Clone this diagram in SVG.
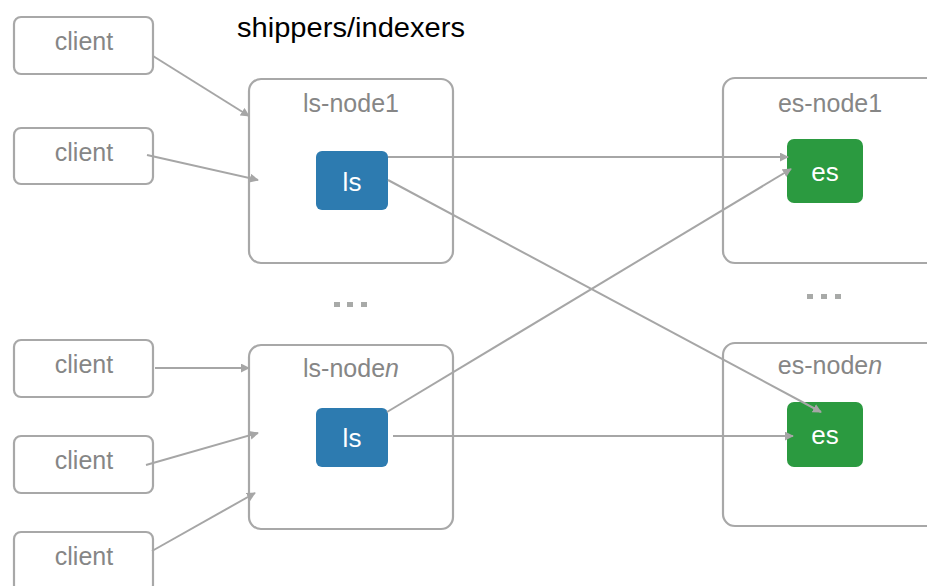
<svg xmlns="http://www.w3.org/2000/svg" width="927" height="586" viewBox="0 0 927 586">
  <style>
    .frame { fill: #ffffff; stroke: #a8a8a8; stroke-width: 2.2; }
    .lbl { font-family: "Liberation Sans", Arial, sans-serif; fill: #868686; text-anchor: middle; }
    .client { font-size: 25px; }
    .node { font-size: 25px; }
    .ls { fill: #2d7bb0; }
    .es { fill: #2b9a40; }
    .inner { font-family: "Liberation Sans", Arial, sans-serif; fill: #ffffff; font-size: 26px; text-anchor: middle; }
    .wire { fill: none; stroke: #a6a6a6; stroke-width: 2; marker-end: url(#head); }
    .dot { fill: #a8aaa8; }
  </style>
  <defs>
    <marker id="head" viewBox="0 0 10 10" refX="9" refY="5" markerWidth="4.5" markerHeight="4.5" orient="auto" markerUnits="strokeWidth">
      <path d="M0,0 L10,5 L0,10 z" fill="#a6a6a6"/>
    </marker>
  </defs>

  <rect width="927" height="586" fill="#ffffff"/>

  <text x="237" y="37" font-family="Liberation Sans, Arial, sans-serif" font-size="27" fill="#000000" textLength="228" lengthAdjust="spacingAndGlyphs">shippers/indexers</text>

  <!-- clients -->
  <g id="client1"><rect class="frame" x="14" y="17" width="139" height="57" rx="7"/><text class="lbl client" x="84" y="50">client</text></g>
  <g id="client2"><rect class="frame" x="14" y="128" width="139" height="56" rx="7"/><text class="lbl client" x="84" y="161">client</text></g>
  <g id="client3"><rect class="frame" x="14" y="340" width="139" height="57" rx="7"/><text class="lbl client" x="84" y="373">client</text></g>
  <g id="client4"><rect class="frame" x="14" y="436" width="139" height="57" rx="7"/><text class="lbl client" x="84" y="469">client</text></g>
  <g id="client5"><rect class="frame" x="14" y="532" width="139" height="60" rx="7"/><text class="lbl client" x="84" y="565">client</text></g>

  <!-- shipper/indexer nodes -->
  <g id="ls-node1">
    <rect class="frame" x="249" y="79" width="204" height="184" rx="12"/>
    <text class="lbl node" x="351" y="112">ls-node1</text>
    <rect class="ls" x="316" y="151" width="72" height="59" rx="6"/>
    <text class="inner" x="352" y="191">ls</text>
  </g>
  <g id="ls-noden">
    <rect class="frame" x="249" y="345" width="204" height="184" rx="12"/>
    <text class="lbl node" x="351" y="377">ls-node<tspan font-style="italic">n</tspan></text>
    <rect class="ls" x="316" y="408" width="72" height="59" rx="6"/>
    <text class="inner" x="352" y="447">ls</text>
  </g>

  <!-- storage nodes -->
  <g id="es-node1">
    <rect class="frame" x="723" y="78" width="240" height="185" rx="12"/>
    <text class="lbl node" x="830" y="112">es-node1</text>
    <rect class="es" x="787" y="139" width="76" height="64" rx="7"/>
    <text class="inner" x="825" y="181">es</text>
  </g>
  <g id="es-noden">
    <rect class="frame" x="723" y="343" width="240" height="183" rx="12"/>
    <text class="lbl node" x="830" y="374">es-node<tspan font-style="italic">n</tspan></text>
    <rect class="es" x="787" y="402" width="76" height="65" rx="7"/>
    <text class="inner" x="825" y="444">es</text>
  </g>

  <!-- ellipses between node rows -->
  <g id="more-ls">
    <rect class="dot" x="334" y="302" width="6" height="5"/>
    <rect class="dot" x="347" y="302" width="6" height="5"/>
    <rect class="dot" x="361" y="302" width="6" height="5"/>
  </g>
  <g id="more-es">
    <rect class="dot" x="807" y="294" width="6" height="5"/>
    <rect class="dot" x="821" y="294" width="6" height="5"/>
    <rect class="dot" x="835" y="294" width="6" height="5"/>
  </g>

  <g id="connectors">
    <line class="wire" x1="153" y1="56" x2="249" y2="116"/>
    <line class="wire" x1="147" y1="155" x2="258" y2="180"/>
    <line class="wire" x1="155" y1="368" x2="249" y2="368"/>
    <line class="wire" x1="146" y1="465" x2="258" y2="433"/>
    <line class="wire" x1="152" y1="551" x2="255" y2="493"/>
    <line class="wire" x1="388" y1="157" x2="788" y2="157"/>
    <line class="wire" x1="388" y1="180" x2="821" y2="412"/>
    <line class="wire" x1="387" y1="412" x2="791" y2="169"/>
    <line class="wire" x1="393" y1="436" x2="793" y2="436"/>
  </g>
</svg>
